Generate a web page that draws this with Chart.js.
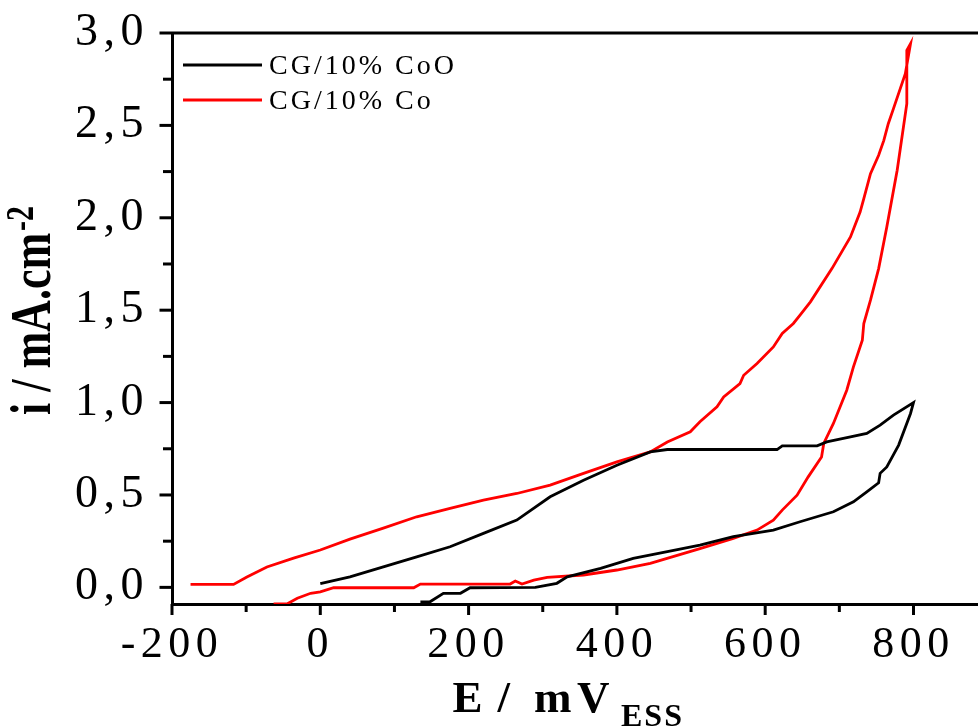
<!DOCTYPE html>
<html lang="en">
<head>
    <meta charset="UTF-8">
    <title>CG/10% CoO vs CG/10% Co</title>
    <style>
        html, body { margin: 0; padding: 0; background: #fff; }
        #cv { display: block; }
    </style>
</head>
<body>
    <canvas id="cv" width="978" height="726"></canvas>

    <script src="https://cdnjs.cloudflare.com/ajax/libs/Chart.js/4.4.0/chart.umd.min.js"></script>
    <script>
        // CG/10% CoO (black loop)
        var cooE = [0, 40, 85, 130, 175, 220, 265, 310, 355, 400, 445, 468, 616, 623, 670, 683, 715, 737, 755, 773,
                    800, 796, 780, 764, 755, 753, 737, 719, 692, 647, 611, 557, 512, 468, 422, 378, 333, 319, 290, 202,
                    189, 166, 148, 135];
        var cooI = [0.02, 0.057, 0.111, 0.165, 0.22, 0.292, 0.364, 0.49, 0.58, 0.661, 0.733, 0.746, 0.746, 0.766, 0.766, 0.787, 0.814, 0.833, 0.878, 0.932,
                    1.0, 0.941, 0.77, 0.652, 0.617, 0.566, 0.517, 0.463, 0.409, 0.355, 0.31, 0.274, 0.229, 0.193, 0.157, 0.103, 0.057, 0.022, 0.0, -0.002,
                    -0.032, -0.032, -0.078, -0.078];

        // CG/10% Co (red loop)
        var coE = [-175, -117, -99, -72, -36, 0, 40, 85, 130, 175, 220, 265, 310, 355, 400, 445, 468, 499, 512, 535,
                   544, 566, 571, 589, 611, 623, 638, 647, 661, 690, 715, 728, 733, 742, 753, 760, 766, 773, 789, 796,
                   791, 791, 778, 764, 753, 742, 733, 731, 719, 710, 692, 679, 676, 658, 643, 623, 611, 589, 557, 512,
                   445, 400, 355, 306, 288, 272, 263, 256, 135, 126, 18, 0, -13, -31, -45, -63];
        var coI = [0.016, 0.016, 0.056, 0.11, 0.158, 0.202, 0.261, 0.321, 0.382, 0.427, 0.472, 0.508, 0.553, 0.617, 0.679, 0.733, 0.787, 0.842, 0.896, 0.977,
                   1.031, 1.103, 1.148, 1.211, 1.301, 1.374, 1.428, 1.473, 1.545, 1.725, 1.896, 2.031, 2.104, 2.239, 2.338, 2.419, 2.509, 2.591, 2.78, 2.942,
                   2.906, 2.618, 2.257, 1.95, 1.725, 1.554, 1.428, 1.337, 1.193, 1.067, 0.887, 0.779, 0.706, 0.598, 0.499, 0.418, 0.364, 0.31, 0.265, 0.21,
                   0.13, 0.094, 0.067, 0.054, 0.039, 0.018, 0.034, 0.018, 0.018, -0.002, -0.002, -0.024, -0.032, -0.059, -0.09, -0.09];

        var seriesNames = ['CG/10% CoO', 'CG/10% Co'];
        var seriesColors = ['#000000', '#ff0000'];

        var xTicks = [-200, 0, 200, 400, 600, 800];
        var xMinorTicks = [-100, 100, 300, 500, 700];
        var yTicks = [0, 0.5, 1.0, 1.5, 2.0, 2.5, 3.0];
        var yMinorTicks = [0.25, 0.75, 1.25, 1.75, 2.25, 2.75];

        var serif = '"Liberation Serif", "Times New Roman", serif';

        function toPoints(xs, ys) {
            var pts = [];
            for (var i = 0; i < xs.length; i++) pts.push({ x: xs[i], y: ys[i] });
            return pts;
        }

        function line(ctx, x1, y1, x2, y2) {
            ctx.beginPath();
            ctx.moveTo(x1, y1);
            ctx.lineTo(x2, y2);
            ctx.stroke();
        }

        // letter spacing for tick labels, ticks with two lengths, top frame, legend and axis titles
        var decor = {
            id: 'decor',
            beforeLayout: function (chart) { chart.ctx.letterSpacing = '5.5px'; },
            beforeDraw: function (chart) { chart.ctx.letterSpacing = '5.5px'; },
            afterDraw: function (chart) {
                var ctx = chart.ctx, a = chart.chartArea;
                var xs = chart.scales.x, ys = chart.scales.y;
                ctx.save();
                ctx.letterSpacing = '0px';
                ctx.strokeStyle = '#000';
                ctx.lineWidth = 3;
                line(ctx, a.left, a.top, a.right, a.top);
                xTicks.forEach(function (v) { var p = xs.getPixelForValue(v); line(ctx, p, a.bottom, p, a.bottom + 11); });
                xMinorTicks.forEach(function (v) { var p = xs.getPixelForValue(v); line(ctx, p, a.bottom, p, a.bottom + 8); });
                yTicks.forEach(function (v) { var p = ys.getPixelForValue(v); line(ctx, a.left, p, a.left - 12.5, p); });
                yMinorTicks.forEach(function (v) { var p = ys.getPixelForValue(v); line(ctx, a.left, p, a.left - 9, p); });

                // legend
                ctx.font = '28px ' + serif;
                ctx.letterSpacing = '3px';
                ctx.textBaseline = 'middle';
                ctx.textAlign = 'left';
                seriesNames.forEach(function (name, k) {
                    var y = a.top + 32 + k * 35;
                    ctx.strokeStyle = seriesColors[k];
                    line(ctx, a.left + 11, y, a.left + 90, y);
                    ctx.fillStyle = '#000';
                    ctx.fillText(name, a.left + 97, y + 1.5);
                });

                // x title: E / mV with ESS subscript
                ctx.letterSpacing = '0px';
                ctx.textBaseline = 'alphabetic';
                ctx.fillStyle = '#000';
                ctx.font = 'bold 45px ' + serif;
                ctx.fillText('E', 452.5, 712);
                ctx.fillText('/', 497.5, 712);
                ctx.fillText('m', 534, 712);
                ctx.fillText('V', 577, 712);
                ctx.font = 'bold 32px ' + serif;
                ctx.letterSpacing = '2px';
                ctx.fillText('ESS', 621, 726);

                // y title: i / mA.cm-2, rotated
                ctx.letterSpacing = '0px';
                ctx.translate(50, 415);
                ctx.rotate(-Math.PI / 2);
                ctx.scale(1, 1.3);
                ctx.font = 'bold 44px ' + serif;
                var main = 'i / mA.cm';
                ctx.fillText(main, 0, 0);
                var w = ctx.measureText(main).width;
                ctx.font = 'bold 30px ' + serif;
                ctx.fillText('-2', w + 2, -13);
                ctx.restore();
                ctx.letterSpacing = '5.5px';
            }
        };

        var commaFmt = function (v) { return v.toFixed(1).replace('.', ','); };

        new Chart(document.getElementById('cv').getContext('2d'), {
            type: 'scatter',
            data: {
                datasets: [
                    { label: seriesNames[0], data: toPoints(cooE, cooI), borderColor: seriesColors[0] },
                    { label: seriesNames[1], data: toPoints(coE, coI), borderColor: seriesColors[1] }
                ]
            },
            options: {
                responsive: false,
                animation: false,
                devicePixelRatio: 1,
                layout: { padding: { left: 0, top: 33, right: 0, bottom: 0 } },
                datasets: {
                    scatter: { showLine: true, pointRadius: 0, borderWidth: 2.8, tension: 0 }
                },
                plugins: {
                    legend: { display: false },
                    tooltip: { enabled: false }
                },
                scales: {
                    x: {
                        type: 'linear',
                        min: -200,
                        max: 887,
                        afterBuildTicks: function (s) { s.ticks = xTicks.map(function (v) { return { value: v }; }); },
                        afterFit: function (s) { s.height = 122; s.paddingLeft = 0; s.paddingRight = 0; },
                        grid: { display: true, drawOnChartArea: false, drawTicks: false },
                        border: { display: true, color: '#000', width: 3 },
                        ticks: {
                            autoSkip: false,
                            maxRotation: 0,
                            padding: 15,
                            color: '#000',
                            font: { family: serif, size: 44, lineHeight: 1.2 }
                        },
                        title: { display: false }
                    },
                    y: {
                        type: 'linear',
                        min: -0.09,
                        max: 3.0,
                        afterBuildTicks: function (s) { s.ticks = yTicks.map(function (v) { return { value: v }; }); },
                        afterFit: function (s) { s.width = 172; s.paddingTop = 0; s.paddingBottom = 0; },
                        grid: { display: true, drawOnChartArea: false, drawTicks: false },
                        border: { display: true, color: '#000', width: 3 },
                        ticks: {
                            padding: 23,
                            color: '#000',
                            font: { family: serif, size: 46, lineHeight: 1.2 },
                            callback: commaFmt
                        },
                        title: { display: false }
                    }
                }
            },
            plugins: [decor]
        });
    </script>
</body>
</html>
